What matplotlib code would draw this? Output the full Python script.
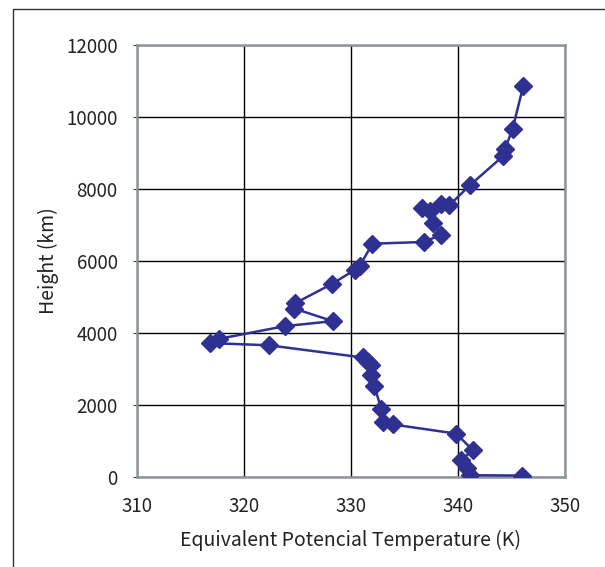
import matplotlib
matplotlib.use("Agg")
import matplotlib.pyplot as plt
from matplotlib.patches import Rectangle

plt.rcParams['font.family'] = ['Noto Sans CJK JP', 'DejaVu Sans']

# equivalent potential temperature (K) vs height (m), from the surface up
theta_e = [346.0, 341.1, 340.8, 340.3, 341.4, 339.85, 333.9, 333.0, 332.84,
           332.2, 331.9, 331.9, 331.6, 331.1, 322.3, 316.8, 317.7, 323.8,
           328.3, 324.7, 324.8, 328.2, 330.4, 330.8, 332.0, 336.8, 338.45,
           337.7, 337.4, 336.6, 338.45, 339.2, 341.1, 344.2, 344.4, 345.1,
           346.1]
height = [40, 50, 240, 480, 740, 1205, 1460, 1530, 1880,
          2520, 2840, 3100, 3200, 3320, 3660, 3720, 3840, 4190,
          4330, 4680, 4830, 5360, 5760, 5850, 6480, 6530, 6730,
          7060, 7390, 7460, 7570, 7550, 8100, 8910, 9120, 9660,
          10860]

xticks = [310, 320, 330, 340, 350]
yticks = [0, 2000, 4000, 6000, 8000, 10000, 12000]

fig = plt.figure(figsize=(6.05, 5.67), dpi=100)
ax = fig.add_axes([0.2264, 0.1587, 0.7074, 0.7619])

ax.plot(theta_e, height, color='#2E3192', lw=1.8, marker='D', ms=9.5,
        markeredgecolor='#2E3192', zorder=3)

ax.set_xlim(310, 350)
ax.set_ylim(0, 12000)
ax.set_xticks(xticks)
ax.set_yticks(yticks)
ax.grid(True, color='black', lw=1)
ax.set_axisbelow(True)
for s in ax.spines.values():
    s.set_color('#8C969B')
    s.set_linewidth(1.8)
ax.tick_params(axis='x', length=0, pad=14, labelsize=13.5, labelcolor='#222222')
ax.tick_params(axis='y', length=3, pad=11, labelsize=13.5, color='#333333',
               labelcolor='#222222')

ax.set_xlabel('Equivalent Potencial Temperature (K)', fontsize=14,
              labelpad=9, color='#222222')
ax.set_ylabel('Height (km)', fontsize=14, labelpad=5, color='#222222')

# outer chart frame (only the top/left edges are visible in the crop)
fig.add_artist(Rectangle((13 / 605, -0.1), 1.2, 1 - 9 / 567 + 0.1,
                         transform=fig.transFigure, fill=False,
                         edgecolor='#333333', lw=1))

fig.savefig('out.png', dpi=100)
